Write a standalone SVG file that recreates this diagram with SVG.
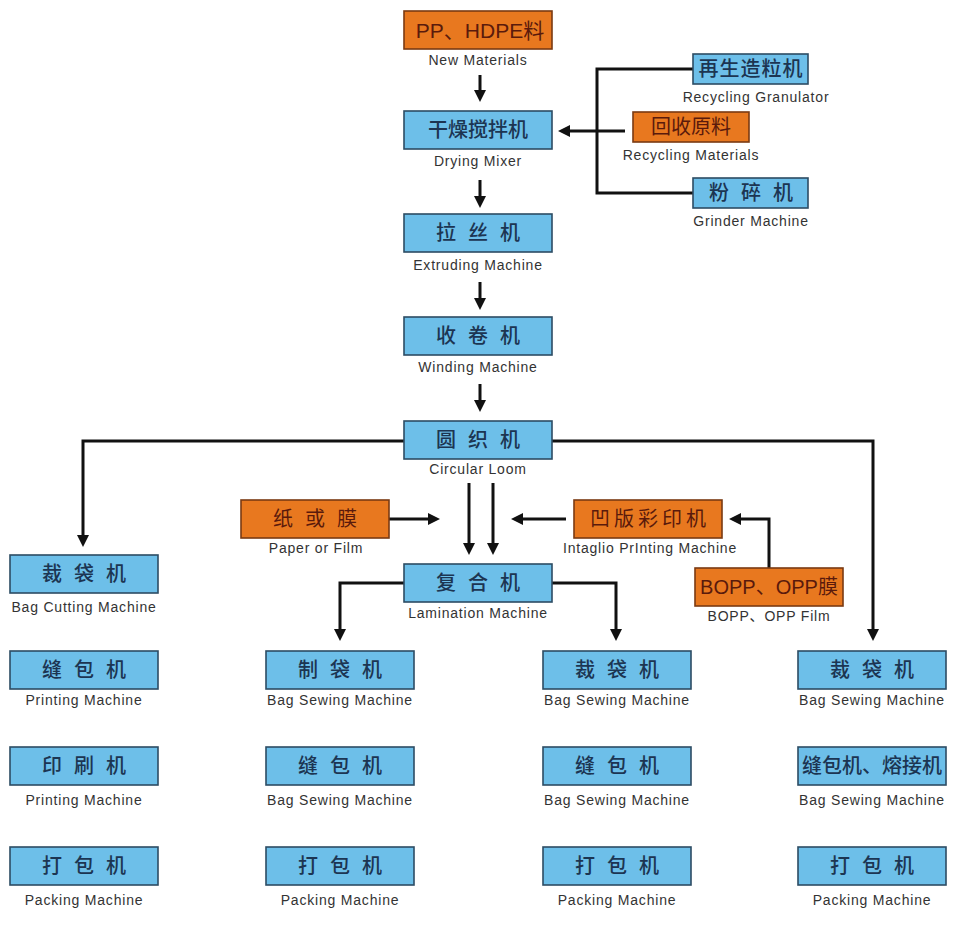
<svg xmlns="http://www.w3.org/2000/svg" width="956" height="943" viewBox="0 0 956 943">
<defs>
<marker id="ah" markerUnits="userSpaceOnUse" markerWidth="14" markerHeight="14" refX="4" refY="6" orient="auto">
<path d="M0,0 L12,6 L0,12 z" fill="#111"/>
</marker>
<style>
.b{fill:#6dbfe9;stroke:#2c4c63;stroke-width:1.6}
.o{fill:#e8781f;stroke:#7a3a12;stroke-width:1.6}
.tb{font-family:"Noto Sans CJK SC","Liberation Sans",sans-serif;font-size:20px;fill:#1c3552;text-anchor:middle;font-weight:500}
.to{font-family:"Liberation Sans","Noto Sans CJK SC",sans-serif;font-size:20px;fill:#5a1a0c;text-anchor:middle}
.w3{letter-spacing:12px}
.w2{letter-spacing:4px}
.l{font-family:"Liberation Sans","Noto Sans CJK SC",sans-serif;font-size:14px;fill:#333;text-anchor:middle;letter-spacing:0.8px}
.c{fill:none;stroke:#111;stroke-width:3}
.a{fill:none;stroke:#111;stroke-width:3;marker-end:url(#ah)}
</style>
</defs>
<rect width="956" height="943" fill="#fff"/>

<g id="connectors">
<path class="a" d="M480,75 V94"/>
<path class="a" d="M480,180 V200"/>
<path class="a" d="M480,282 V302"/>
<path class="a" d="M480,384 V404"/>
<path class="c" d="M693,69 H597 V193 H693"/>
<path class="a" d="M625,131 H566"/>
<path class="a" d="M404,441 H83 V539"/>
<path class="a" d="M552,441 H873 V633"/>
<path class="a" d="M469,483 V547"/>
<path class="a" d="M493,483 V547"/>
<path class="a" d="M389,519 H432"/>
<path class="a" d="M566,519 H519"/>
<path class="a" d="M769,568 V519 H737"/>
<path class="a" d="M404,583 H340 V633"/>
<path class="a" d="M552,583 H616 V633"/>
</g>

<g id="new-materials"><rect class="o" x="404" y="11" width="148" height="38"/><text class="to" x="480" y="38" style="font-size:21px">PP、HDPE料</text><text class="l" x="478" y="65">New Materials</text></g>
<g id="drying-mixer"><rect class="b" x="404" y="111" width="148" height="38"/><text class="tb" x="478" y="137">干燥搅拌机</text><text class="l" x="478" y="166">Drying Mixer</text></g>
<g id="extruding"><rect class="b" x="404" y="214" width="148" height="38"/><text class="tb w3" x="484" y="240">拉丝机</text><text class="l" x="478" y="270">Extruding Machine</text></g>
<g id="winding"><rect class="b" x="404" y="317" width="148" height="38"/><text class="tb w3" x="484" y="343">收卷机</text><text class="l" x="478" y="372">Winding Machine</text></g>
<g id="circular-loom"><rect class="b" x="404" y="421" width="148" height="38"/><text class="tb w3" x="484" y="447">圆织机</text><text class="l" x="478" y="474">Circular Loom</text></g>

<g id="granulator"><rect class="b" x="693" y="54" width="115" height="30"/><text class="tb" x="751" y="76" style="letter-spacing:1px">再生造粒机</text><text class="l" x="756" y="102">Recycling Granulator</text></g>
<g id="recycling-materials"><rect class="o" x="633" y="112" width="116" height="30"/><text class="to" x="691" y="134">回收原料</text><text class="l" x="691" y="160">Recycling Materials</text></g>
<g id="grinder"><rect class="b" x="693" y="178" width="115" height="30"/><text class="tb" x="757" y="200" style="letter-spacing:12px">粉碎机</text><text class="l" x="751" y="226">Grinder Machine</text></g>

<g id="paper-film"><rect class="o" x="241" y="500" width="148" height="38"/><text class="to w3" x="321" y="526">纸或膜</text><text class="l" x="316" y="553">Paper or Film</text></g>
<g id="intaglio"><rect class="o" x="574" y="500" width="148" height="38"/><text class="to w2" x="650" y="526">凹版彩印机</text><text class="l" x="650" y="553">Intaglio PrInting Machine</text></g>
<g id="bopp"><rect class="o" x="695" y="568" width="148" height="38"/><text class="to" x="769" y="594">BOPP、OPP膜</text><text class="l" x="769" y="621">BOPP、OPP Film</text></g>
<g id="lamination"><rect class="b" x="404" y="564" width="148" height="38"/><text class="tb w3" x="484" y="590">复合机</text><text class="l" x="478" y="618">Lamination Machine</text></g>

<g id="c1-cutting"><rect class="b" x="10" y="555" width="148" height="38"/><text class="tb w3" x="90" y="581">裁袋机</text><text class="l" x="84" y="612">Bag Cutting Machine</text></g>
<g id="c1-sewing"><rect class="b" x="10" y="651" width="148" height="38"/><text class="tb w3" x="90" y="677">缝包机</text><text class="l" x="84" y="705">Printing Machine</text></g>
<g id="c1-printing"><rect class="b" x="10" y="747" width="148" height="38"/><text class="tb w3" x="90" y="773">印刷机</text><text class="l" x="84" y="805">Printing Machine</text></g>
<g id="c1-packing"><rect class="b" x="10" y="847" width="148" height="38"/><text class="tb w3" x="90" y="873">打包机</text><text class="l" x="84" y="905">Packing Machine</text></g>

<g id="c2-bagmaking"><rect class="b" x="266" y="651" width="148" height="38"/><text class="tb w3" x="346" y="677">制袋机</text><text class="l" x="340" y="705">Bag Sewing Machine</text></g>
<g id="c2-sewing"><rect class="b" x="266" y="747" width="148" height="38"/><text class="tb w3" x="346" y="773">缝包机</text><text class="l" x="340" y="805">Bag Sewing Machine</text></g>
<g id="c2-packing"><rect class="b" x="266" y="847" width="148" height="38"/><text class="tb w3" x="346" y="873">打包机</text><text class="l" x="340" y="905">Packing Machine</text></g>

<g id="c3-cutting"><rect class="b" x="543" y="651" width="148" height="38"/><text class="tb w3" x="623" y="677">裁袋机</text><text class="l" x="617" y="705">Bag Sewing Machine</text></g>
<g id="c3-sewing"><rect class="b" x="543" y="747" width="148" height="38"/><text class="tb w3" x="623" y="773">缝包机</text><text class="l" x="617" y="805">Bag Sewing Machine</text></g>
<g id="c3-packing"><rect class="b" x="543" y="847" width="148" height="38"/><text class="tb w3" x="623" y="873">打包机</text><text class="l" x="617" y="905">Packing Machine</text></g>

<g id="c4-cutting"><rect class="b" x="798" y="651" width="148" height="38"/><text class="tb w3" x="878" y="677">裁袋机</text><text class="l" x="872" y="705">Bag Sewing Machine</text></g>
<g id="c4-sewing"><rect class="b" x="798" y="747" width="148" height="38"/><text class="tb" x="872" y="773">缝包机、熔接机</text><text class="l" x="872" y="805">Bag Sewing Machine</text></g>
<g id="c4-packing"><rect class="b" x="798" y="847" width="148" height="38"/><text class="tb w3" x="878" y="873">打包机</text><text class="l" x="872" y="905">Packing Machine</text></g>
</svg>
